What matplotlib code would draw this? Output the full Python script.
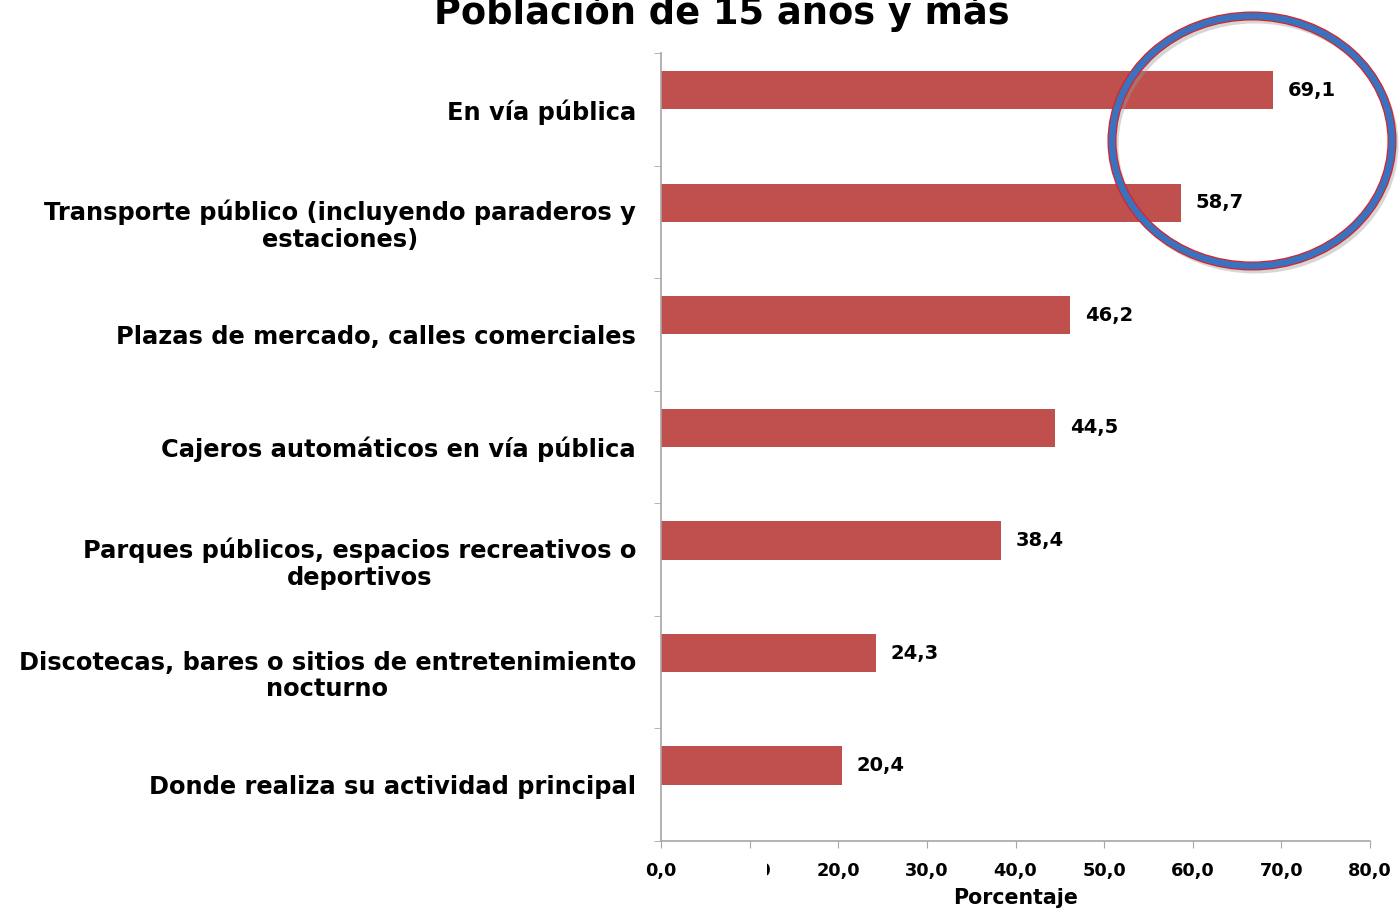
import matplotlib.pyplot as plt
from matplotlib.patches import Ellipse, Rectangle

plt.rcParams['font.family'] = ['DejaVu Sans']

# datos
categorias = [
    "En vía pública",
    "Transporte público (incluyendo paraderos y\nestaciones)",
    "Plazas de mercado, calles comerciales",
    "Cajeros automáticos en vía pública",
    "Parques públicos, espacios recreativos o\ndeportivos",
    "Discotecas, bares o sitios de entretenimiento\nnocturno",
    "Donde realiza su actividad principal",
]
valores = [69.1, 58.7, 46.2, 44.5, 38.4, 24.3, 20.4]
etiquetas_x = ["0,0", "10,0", "20,0", "30,0", "40,0", "50,0", "60,0", "70,0", "80,0"]
ticks_x = [0, 10, 20, 30, 40, 50, 60, 70, 80]

rojo = "#C0504D"
gris = "#A6A6A6"

fig = plt.figure(figsize=(13.99, 9.09), dpi=100)
ax = fig.add_axes([661 / 1399, 1 - 841 / 909, (1370 - 661) / 1399, (841 - 53) / 909])

n = len(categorias)
pos = [n - 1 - i for i in range(n)]
barras = ax.barh([p + 0.17 for p in pos], valores, height=0.34, color=rojo, zorder=2)

for b, v in zip(barras, valores):
    ax.annotate(f"{v:.1f}".replace(".", ","), (b.get_width(), b.get_y() + b.get_height() / 2),
                xytext=(10.5, 0), textcoords="offset points", va="center", ha="left",
                fontsize=14, fontweight="bold")

ax.set_xlim(0, 80)
ax.set_ylim(-0.5, n - 0.5)
ax.set_xticks(ticks_x)
ax.set_xticklabels(etiquetas_x, fontsize=12.8, fontweight="bold")
ax.set_yticks(pos)
ax.set_yticklabels(categorias, fontsize=17.4, fontweight="bold", multialignment="center",
                   linespacing=1.15)
ax.set_yticks([p - 0.5 for p in range(n + 1)], minor=True)
ax.tick_params(axis="y", which="major", length=0, pad=18)
ax.tick_params(axis="y", which="minor", length=5, color=gris, direction="out")
ax.tick_params(axis="x", length=5, color=gris, direction="out", pad=10)
ax.set_xlabel("Porcentaje", fontsize=14.8, fontweight="bold", labelpad=6)

for s in ["top", "right"]:
    ax.spines[s].set_visible(False)
for s in ["left", "bottom"]:
    ax.spines[s].set_color(gris)
    ax.spines[s].set_linewidth(1.2)

# titulo cortado arriba
fig.text(722 / 1399, 1 - 24 / 909, "Población de 15 años y más", ha="center", va="baseline",
         fontsize=26.5, fontweight="bold")

# parche blanco que tapa parte del "10,0"
fig.add_artist(Rectangle((722 / 1399, 1 - 885 / 909), 45 / 1399, 30 / 909,
                         transform=fig.transFigure, facecolor="white", edgecolor="none", zorder=10))

# circulo resaltado
cx, cy, w, h = 1252 / 1399, 1 - 141 / 909, 280 / 1399, 250 / 909
fig.add_artist(Ellipse((cx + 3 / 1399, cy - 4 / 909), w, h, transform=fig.transFigure,
                       fill=False, edgecolor="#999999", linewidth=5, alpha=0.4, zorder=11))
fig.add_artist(Ellipse((cx, cy), w, h, transform=fig.transFigure,
                       fill=False, edgecolor="#E02020", linewidth=6.5, zorder=12))
fig.add_artist(Ellipse((cx, cy), w, h, transform=fig.transFigure,
                       fill=False, edgecolor="#3B72BF", linewidth=4.8, zorder=13))

fig.savefig("out.png", dpi=100)
